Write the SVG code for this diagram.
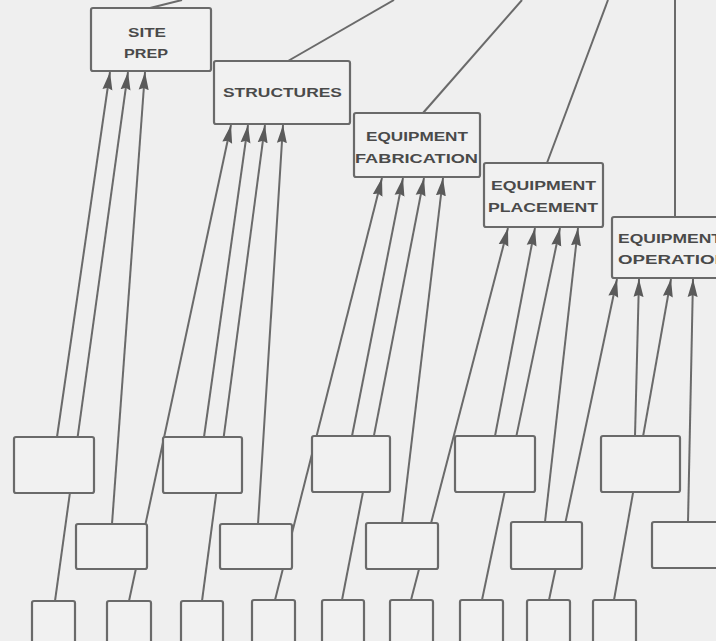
<svg xmlns="http://www.w3.org/2000/svg" width="716" height="641" viewBox="0 0 716 641">
<defs>
<marker id="ah" markerUnits="userSpaceOnUse" markerWidth="22" markerHeight="22" refX="18" refY="5.5" orient="auto">
<path d="M18,5.5 L0,0.5 L2,5.5 L0,10.5 Z" fill="#5a5a5a"/>
</marker>
<style>
.bg{fill:#efefef}
.box{fill:#f1f1f1;stroke:#6a6a6a;stroke-width:2.2}
.ln{stroke:#6a6a6a;stroke-width:2;fill:none}
.ar{stroke:#6a6a6a;stroke-width:2;fill:none;marker-end:url(#ah)}
.t{font-family:"Liberation Sans",Arial,sans-serif;font-weight:bold;font-size:13px;fill:#4a4a4a}
</style>
</defs>
<rect class="bg" x="0" y="0" width="716" height="641"/>
<g id="connectors">
<line class="ln" x1="150" y1="8" x2="182" y2="0"/>
<line class="ln" x1="288" y1="61" x2="394" y2="0"/>
<line class="ln" x1="423" y1="113" x2="522" y2="0"/>
<line class="ln" x1="547" y1="163" x2="608" y2="0"/>
<line class="ln" x1="675" y1="217" x2="675" y2="0"/>
<line class="ar" x1="57" y1="437" x2="110" y2="72"/>
<line class="ar" x1="55" y1="601" x2="128" y2="72"/>
<line class="ar" x1="112" y1="524" x2="145" y2="72"/>
<line class="ar" x1="129" y1="601" x2="231" y2="125"/>
<line class="ar" x1="204" y1="437" x2="248" y2="125"/>
<line class="ar" x1="202" y1="601" x2="265" y2="125"/>
<line class="ar" x1="258" y1="524" x2="283" y2="125"/>
<line class="ar" x1="275" y1="600" x2="382" y2="178"/>
<line class="ar" x1="352" y1="436" x2="403" y2="178"/>
<line class="ar" x1="342" y1="600" x2="424" y2="178"/>
<line class="ar" x1="402" y1="523" x2="443" y2="178"/>
<line class="ar" x1="411" y1="600" x2="508" y2="228"/>
<line class="ar" x1="495" y1="436" x2="535" y2="228"/>
<line class="ar" x1="482" y1="600" x2="560" y2="228"/>
<line class="ar" x1="545" y1="522" x2="578" y2="228"/>
<line class="ar" x1="549" y1="600" x2="617" y2="279"/>
<line class="ar" x1="635" y1="436" x2="639" y2="279"/>
<line class="ar" x1="614" y1="600" x2="671" y2="279"/>
<line class="ar" x1="688" y1="522" x2="693" y2="279"/>
</g>
<g id="site-prep"><rect class="box" x="91" y="8" width="120" height="63" rx="2"/>
<text class="t" x="128" y="37" textLength="38" lengthAdjust="spacingAndGlyphs">SITE</text>
<text class="t" x="124" y="58" textLength="44" lengthAdjust="spacingAndGlyphs">PREP</text></g>
<g id="structures"><rect class="box" x="214" y="61" width="136" height="63" rx="2"/>
<text class="t" x="223" y="97" textLength="119" lengthAdjust="spacingAndGlyphs">STRUCTURES</text></g>
<g id="equipment-fabrication"><rect class="box" x="354" y="113" width="126" height="64" rx="2"/>
<text class="t" x="366" y="141" textLength="102" lengthAdjust="spacingAndGlyphs">EQUIPMENT</text>
<text class="t" x="355" y="163" textLength="123" lengthAdjust="spacingAndGlyphs">FABRICATION</text></g>
<g id="equipment-placement"><rect class="box" x="484" y="163" width="119" height="64" rx="2"/>
<text class="t" x="491" y="190" textLength="105" lengthAdjust="spacingAndGlyphs">EQUIPMENT</text>
<text class="t" x="488" y="212" textLength="110" lengthAdjust="spacingAndGlyphs">PLACEMENT</text></g>
<g id="equipment-operation"><rect class="box" x="612" y="217" width="122" height="61" rx="2"/>
<text class="t" x="618" y="243" textLength="104" lengthAdjust="spacingAndGlyphs">EQUIPMENT</text>
<text class="t" x="618" y="264" textLength="110" lengthAdjust="spacingAndGlyphs">OPERATION</text></g>
<g id="a1"><rect class="box" x="14" y="437" width="80" height="56" rx="2"/></g>
<g id="a2"><rect class="box" x="163" y="437" width="79" height="56" rx="2"/></g>
<g id="a3"><rect class="box" x="312" y="436" width="78" height="56" rx="2"/></g>
<g id="a4"><rect class="box" x="455" y="436" width="80" height="56" rx="2"/></g>
<g id="a5"><rect class="box" x="601" y="436" width="79" height="56" rx="2"/></g>
<g id="b1"><rect class="box" x="76" y="524" width="71" height="45" rx="2"/></g>
<g id="b2"><rect class="box" x="220" y="524" width="72" height="45" rx="2"/></g>
<g id="b3"><rect class="box" x="366" y="523" width="72" height="46" rx="2"/></g>
<g id="b4"><rect class="box" x="511" y="522" width="71" height="47" rx="2"/></g>
<g id="b5"><rect class="box" x="652" y="522" width="80" height="46" rx="2"/></g>
<g id="c1"><rect class="box" x="32" y="601" width="43" height="50" rx="2"/></g>
<g id="c2"><rect class="box" x="107" y="601" width="44" height="50" rx="2"/></g>
<g id="c3"><rect class="box" x="181" y="601" width="42" height="50" rx="2"/></g>
<g id="c4"><rect class="box" x="252" y="600" width="43" height="50" rx="2"/></g>
<g id="c5"><rect class="box" x="322" y="600" width="42" height="50" rx="2"/></g>
<g id="c6"><rect class="box" x="390" y="600" width="43" height="50" rx="2"/></g>
<g id="c7"><rect class="box" x="460" y="600" width="43" height="50" rx="2"/></g>
<g id="c8"><rect class="box" x="527" y="600" width="43" height="50" rx="2"/></g>
<g id="c9"><rect class="box" x="593" y="600" width="43" height="50" rx="2"/></g>
</svg>
